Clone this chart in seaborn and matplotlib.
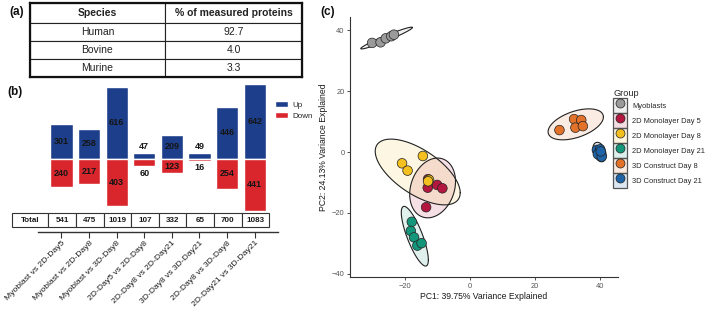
import numpy as np
import pandas as pd
import matplotlib
matplotlib.use("Agg")
import matplotlib.pyplot as plt
import seaborn as sns
from matplotlib.patches import Patch
from matplotlib.lines import Line2D

# ---------------- data ----------------
species = ["Human", "Bovine", "Murine"]
species_pct = ["92.7", "4.0", "3.3"]

comparisons = ["Myoblast vs 2D-Day5", "Myoblast vs 2D-Day8", "Myoblast vs 3D-Day8",
               "2D-Day5 vs 2D-Day8", "2D-Day8 vs 2D-Day21", "3D-Day8 vs 3D-Day21",
               "2D-Day8 vs 3D-Day8", "2D-Day21 vs 3D-Day21"]
up_counts = [301, 258, 616, 47, 209, 49, 446, 642]
down_counts = [240, 217, 403, 60, 123, 16, 254, 441]

groups = ["Myoblasts", "2D Monolayer Day 5", "2D Monolayer Day 8",
          "2D Monolayer Day 21", "3D Construct Day 8", "3D Construct Day 21"]
group_colors = ["#9a9a9a", "#b3173f", "#f3c020", "#14967a", "#e2722a", "#1d63a6"]

myoblasts_pc1 = [-30.1, -27.5, -25.9, -24.2, -23.4]
myoblasts_pc2 = [35.8, 36.0, 37.3, 38.0, 38.5]
d5_pc1 = [-13.0, -10.1, -8.5, -13.5, -12.9]
d5_pc2 = [-11.7, -10.8, -11.9, -18.1, -8.9]
d8_pc1 = [-14.5, -20.9, -19.2, -12.6, -12.9]
d8_pc2 = [-1.3, -3.7, -6.1, -9.1, -9.6]
d21_pc1 = [-17.9, -18.2, -17.2, -16.2, -14.9]
d21_pc2 = [-22.9, -25.9, -28.0, -30.7, -29.9]
c8_pc1 = [27.5, 32.0, 34.2, 32.4, 34.7]
c8_pc2 = [7.2, 10.8, 10.5, 8.0, 8.5]
c21_pc1 = [39.0, 40.0, 39.3, 40.5, 40.2]
c21_pc2 = [0.7, 0.9, -0.7, -1.5, 0.2]

pc1_label = "PC1: 39.75% Variance Explained"
pc2_label = "PC2: 24.13% Variance Explained"

# ---------------- style ----------------
sns.set_theme(style="white")
plt.rcParams["font.family"] = ["Liberation Sans", "DejaVu Sans"]

W, H = 709, 309
fig = plt.figure(figsize=(W / 100, H / 100), dpi=100)


def px_axes(l, t, r, b):
    return fig.add_axes([l / W, 1 - b / H, (r - l) / W, (b - t) / H])


# ---------------- panel (a) ----------------
axa = px_axes(30, 3, 302, 77)
tbl = axa.table(cellText=[[s, p] for s, p in zip(species, species_pct)],
                colLabels=["Species", "% of measured proteins"],
                cellLoc="center", bbox=[0, 0, 1, 1], colWidths=[0.496, 0.504])
tbl.auto_set_font_size(False)
tbl.set_fontsize(7.5)
for (r, c), cell in tbl.get_celld().items():
    cell.set_linewidth(0.8)
    cell.set_edgecolor("#222222")
    cell.get_text().set_color("#222222")
    if r == 0:
        cell.get_text().set_fontweight("bold")
        cell.set_height(cell.get_height() * 20 / 18)
axa.set_xticks([])
axa.set_yticks([])
for sp in axa.spines.values():
    sp.set_visible(True)
    sp.set_linewidth(1.6)
    sp.set_color("#111111")
    sp.set_zorder(5)

# ---------------- panel (b) ----------------
blue, red = "#1d3f8b", "#d9262c"
df_bars = pd.DataFrame({
    "comparison": comparisons * 2,
    "count": up_counts + [-d for d in down_counts],
    "direction": ["Up"] * len(comparisons) + ["Down"] * len(comparisons),
})
axb = px_axes(38, 80, 278, 232)
sns.barplot(data=df_bars, x="comparison", y="count", hue="direction",
            hue_order=["Up", "Down"], palette=[blue, red], dodge=False,
            width=0.81, saturation=1, legend=False, ax=axb, order=comparisons)
axb.set_xlim(-0.851, 7.844)
axb.set_ylim(-624, 675)
px_unit = 1299 / 152.0
for i, (u, d) in enumerate(zip(up_counts, down_counts)):
    yu = u / 2 if u >= 100 else u + 7 * px_unit
    yd = -d / 2 if d >= 100 else -d - 7 * px_unit
    axb.text(i, yu, str(u), ha="center", va="center", fontsize=6.5,
             fontweight="bold", color="#151515")
    axb.text(i, yd, str(d), ha="center", va="center", fontsize=6.5,
             fontweight="bold", color="#151515")
for k in ["top", "right", "left"]:
    axb.spines[k].set_visible(False)
axb.spines["bottom"].set_visible(True)
axb.spines["bottom"].set_color("#333333")
axb.spines["bottom"].set_linewidth(1.0)
axb.set_yticks([])
axb.set_xlabel("")
axb.set_ylabel("")
axb.tick_params(axis="x", bottom=True, direction="out", length=4, width=0.8,
                color="#333333", labelsize=6.1, labelcolor="#1a1a1a", pad=1.5)
plt.setp(axb.get_xticklabels(), rotation=45, ha="right", rotation_mode="anchor")

totals = [u + d for u, d in zip(up_counts, down_counts)]
tw = [36.6] + [27.6] * len(totals)
tw = [w / sum(tw) for w in tw]
ttbl = axb.table(cellText=[["Total"] + [str(t) for t in totals]], cellLoc="center",
                 colWidths=tw, bbox=[(11.7 - 38) / 240, 5 / 152, 257.6 / 240, 14 / 152])
ttbl.auto_set_font_size(False)
ttbl.set_fontsize(5.8)
for (r, c), cell in ttbl.get_celld().items():
    cell.set_linewidth(0.8)
    cell.set_edgecolor("#333333")
    cell.get_text().set_fontweight("bold")
    cell.get_text().set_color("#1a1a1a")
ttbl.set_clip_on(False)

fig.legend(handles=[Patch(facecolor=blue, label="Up"), Patch(facecolor=red, label="Down")],
           loc="upper left", bbox_to_anchor=(275 / W, 1 - 101 / H), frameon=False,
           fontsize=5.8, handlelength=1.6, handleheight=0.7, handletextpad=0.5,
           labelspacing=0.45, borderpad=0, borderaxespad=0)


# ---------------- panel (c) ----------------
def cov_trob(X, nu=5, maxit=50, tol=0.01):
    n, p = X.shape
    w = np.ones(n)
    loc = X.mean(axis=0)
    for _ in range(maxit):
        w0 = w.copy()
        Xc = X - loc
        C = (Xc * (w / w.sum())[:, None]).T @ Xc
        Q = np.einsum("ij,jk,ik->i", Xc, np.linalg.inv(C), Xc)
        w = (nu + p) / (nu + Q)
        loc = (w[:, None] * X).sum(axis=0) / w.sum()
        if np.all(np.abs(w - w0) < tol):
            break
    Xc = X - loc
    cov = (Xc * w[:, None]).T @ Xc / n
    return loc, cov


pc_x = [myoblasts_pc1, d5_pc1, d8_pc1, d21_pc1, c8_pc1, c21_pc1]
pc_y = [myoblasts_pc2, d5_pc2, d8_pc2, d21_pc2, c8_pc2, c21_pc2]
df_pca = pd.DataFrame({
    "PC1": sum(pc_x, []),
    "PC2": sum(pc_y, []),
    "Group": sum([[g] * len(xs) for g, xs in zip(groups, pc_x)], []),
})

axc = px_axes(350, 17, 618, 277)
for g, col in zip(groups, group_colors):
    sub = df_pca[df_pca.Group == g]
    X = sub[["PC1", "PC2"]].values
    n = len(X)
    loc, cov = cov_trob(X)
    dfd = n - 1
    qf = dfd / 2 * (0.05 ** (-2 / dfd) - 1)   # F(0.95; 2, n-1)
    r = np.sqrt(2 * qf)
    chol = np.linalg.cholesky(cov).T
    t = np.linspace(0, 2 * np.pi, 200)
    circ = np.stack([np.cos(t), np.sin(t)], axis=1)
    e = loc + r * circ @ chol
    axc.fill(e[:, 0], e[:, 1], color=col, alpha=0.13, lw=0, zorder=1)
    axc.plot(e[:, 0], e[:, 1], color="#222222", lw=0.8, zorder=2)

sns.scatterplot(data=df_pca, x="PC1", y="PC2", hue="Group", hue_order=groups,
                palette=group_colors, s=48, edgecolor="#222222", linewidth=0.5,
                legend=False, ax=axc, zorder=3)
axc.set_xlim(-36.9, 45.5)
axc.set_ylim(-41, 44.3)
axc.set_xticks([-20, 0, 20, 40])
axc.set_yticks([-40, -20, 0, 20, 40])
for k in ["top", "right"]:
    axc.spines[k].set_visible(False)
for k in ["left", "bottom"]:
    axc.spines[k].set_color("#333333")
    axc.spines[k].set_linewidth(0.8)
axc.tick_params(axis="both", bottom=True, left=True, direction="out", length=2.5,
                width=0.6, color="#333333", labelsize=5.4, labelcolor="#555555", pad=1.5)
axc.set_xlabel(pc1_label, fontsize=6.2, color="#1a1a1a", labelpad=2)
axc.set_ylabel(pc2_label, fontsize=6.2, color="#1a1a1a", labelpad=3)

handles = []
for g, col in zip(groups, group_colors):
    handles.append((Patch(facecolor=col, alpha=0.15, edgecolor="none"),
                    Patch(facecolor="none", edgecolor="#555555", linewidth=0.9),
                    Line2D([], [], marker="o", linestyle="none", markersize=6.5,
                           markerfacecolor=col, markeredgecolor="#222222",
                           markeredgewidth=0.5)))
fig.legend(handles=handles, labels=groups, title="Group", loc="upper left",
           bbox_to_anchor=(613 / W, 1 - 89 / H), frameon=False, fontsize=5.4,
           title_fontsize=6.6, alignment="left", handlelength=1.87,
           handleheight=2.7, labelspacing=0, handletextpad=0.67, borderpad=0,
           borderaxespad=0)

# ---------------- panel labels ----------------
for lab, x, y in [("(a)", 9, 12.5), ("(b)", 7, 91.7), ("(c)", 320, 12.3)]:
    fig.text(x / W, 1 - y / H, lab, fontsize=8.5, fontweight="bold",
             ha="left", va="center", color="#111111")

fig.savefig("out.png", dpi=100)
